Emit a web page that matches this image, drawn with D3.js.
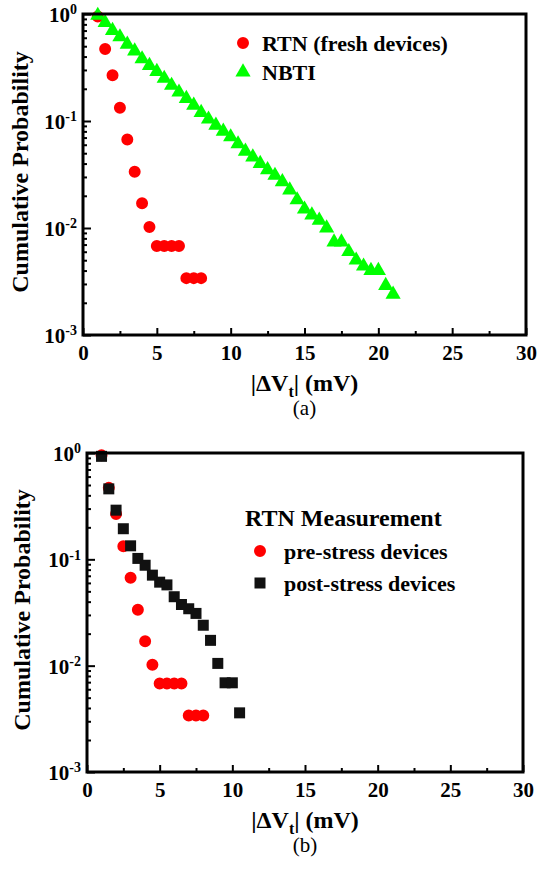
<!DOCTYPE html>
<html>
<head>
<meta charset="utf-8">
<script src="https://cdn.jsdelivr.net/npm/d3@7"></script>
<style>
  body { margin: 0; background: #fff; }
  text { font-family: "Liberation Serif", "Times New Roman", serif; }
</style>
</head>
<body>
<svg id="chart" width="537" height="871"></svg>
<script>
// axis ticks
const xTicks = [0, 5, 10, 15, 20, 25, 30];
const xMinor = [2.5, 7.5, 12.5, 17.5, 22.5, 27.5];
const yDecades = [1, 0.1, 0.01, 0.001];
const yExps = ["0", "-1", "-2", "-3"];

// RTN on fresh / pre-stress devices (same set in both panels)
const rtnX = [1, 1.5, 2, 2.5, 3, 3.5, 4, 4.5, 5, 5.5, 6, 6.5, 7, 7.5, 8];
const rtnP = [0.95, 0.47, 0.267, 0.133, 0.067, 0.0335, 0.017, 0.0102, 0.0068, 0.0068, 0.0068, 0.0068, 0.0034, 0.0034, 0.0034];

// NBTI
const nbtiX = [1, 1.5, 2, 2.5, 3, 3.5, 4, 4.5, 5, 5.5, 6, 6.5, 7, 7.5, 8, 8.5, 9, 9.5, 10, 10.5,
  11, 11.5, 12, 12.5, 13, 13.5, 14, 14.5, 15, 15.5, 16, 16.5, 17, 17.5, 18, 18.5, 19, 19.5, 20, 20.5, 21];
const nbtiP = [0.97, 0.83, 0.70, 0.61, 0.52, 0.45, 0.38, 0.33, 0.29, 0.25,
  0.215, 0.186, 0.162, 0.14, 0.12, 0.104, 0.091, 0.08, 0.071, 0.061,
  0.052, 0.046, 0.040, 0.035, 0.031, 0.027, 0.0226, 0.0183, 0.015, 0.0132,
  0.0118, 0.010, 0.0074, 0.0074, 0.006, 0.005, 0.0044, 0.004, 0.004, 0.0029, 0.0024];

// RTN on post-stress devices
const postX = [1, 1.5, 2, 2.5, 3, 3.5, 4, 4.5, 5, 5.5, 6, 6.5, 7, 7.5, 8, 8.5, 9, 9.5, 10, 10.5];
const postP = [0.93, 0.46, 0.29, 0.194, 0.134, 0.102, 0.088, 0.071, 0.061, 0.0575,
  0.0445, 0.0376, 0.0343, 0.031, 0.024, 0.0173, 0.0105, 0.0069, 0.0069, 0.0036];

const svg = d3.select("#chart");
const serif = '"Liberation Serif", "Times New Roman", serif';

const circleSym = d3.symbol(d3.symbolCircle, 113);
const triSym = d3.symbol(d3.symbolTriangle, 100);
const squareSym = d3.symbol(d3.symbolSquare, 121);

function drawPanel(p) {
  const x = d3.scaleLinear().domain([0, 30]).range([p.left, p.right]);
  const y = d3.scaleLog().domain([0.001, 1]).range([p.bottom, p.top]);
  const g = svg.append("g");

  // series, in drawing order
  p.series.forEach(s => {
    g.append("g").selectAll("path")
      .data(s.xs.map((d, i) => [d, s.ps[i]]))
      .enter().append("path")
      .attr("transform", d => `translate(${x(d[0])},${y(d[1])})`)
      .attr("d", s.sym)
      .attr("fill", s.color);
  });

  // x axis, ticks inward
  const gx = g.append("g").attr("transform", `translate(0,${p.bottom})`)
    .call(d3.axisBottom(x).tickValues(xTicks).tickSizeInner(-7).tickSizeOuter(0)
      .tickPadding(10).tickFormat(d3.format("d")));
  g.append("g").attr("transform", `translate(0,${p.bottom})`)
    .call(d3.axisBottom(x).tickValues(xMinor).tickSizeInner(-4).tickSizeOuter(0).tickFormat(""));

  // y axis, decades + minor
  const gy = g.append("g").attr("transform", `translate(${p.left},0)`)
    .call(d3.axisLeft(y).tickValues(yDecades).tickSizeInner(-8).tickSizeOuter(0).tickPadding(6));
  g.append("g").attr("transform", `translate(${p.left},0)`)
    .call(d3.axisLeft(y).tickValues(y.ticks().filter(v => yDecades.indexOf(v) < 0))
      .tickSizeInner(-4).tickSizeOuter(0).tickFormat(""));

  g.selectAll(".domain").remove();
  g.selectAll(".tick line").attr("stroke", "#000").attr("stroke-width", 2);

  gx.selectAll(".tick text")
    .style("font-family", serif).attr("font-weight", "bold")
    .attr("font-size", 21).attr("fill", "#000").attr("dy", "0.71em");

  gy.selectAll(".tick text").each(function (d, i) {
    const t = d3.select(this)
      .style("font-family", serif).attr("font-weight", "bold")
      .attr("font-size", 21).attr("fill", "#000").attr("dy", "0.36em")
      .text("10");
    t.append("tspan").attr("font-size", 14).attr("dy", "-0.55em").text(yExps[i]);
  });

  // frame
  g.append("rect")
    .attr("x", p.left).attr("y", p.top)
    .attr("width", p.right - p.left).attr("height", p.bottom - p.top)
    .attr("fill", "none").attr("stroke", "#000").attr("stroke-width", 3);

  // y label
  g.append("text")
    .attr("transform", `translate(${p.ylabX},${p.ylabY}) rotate(-90)`)
    .attr("text-anchor", "middle")
    .attr("font-weight", "bold").attr("font-size", 24)
    .text("Cumulative Probability");

  // x label
  const xl = g.append("text")
    .attr("x", (p.left + p.right) / 2).attr("y", p.bottom + p.xlabDy)
    .attr("text-anchor", "middle")
    .attr("font-weight", "bold").attr("font-size", 24);
  xl.append("tspan").text("|ΔV");
  xl.append("tspan").attr("font-size", 16).attr("dy", 6).text("t");
  xl.append("tspan").attr("dy", -6).text("| (mV)");

  // panel caption
  g.append("text")
    .attr("x", (p.left + p.right) / 2).attr("y", p.bottom + p.capDy)
    .attr("text-anchor", "middle")
    .attr("font-size", 21)
    .text(p.caption);

  // legend
  const lg = g.append("g");
  p.legend.forEach(l => {
    if (l.sym) {
      lg.append("path").attr("transform", `translate(${l.mx},${l.y})`)
        .attr("d", l.sym).attr("fill", l.color);
    }
    lg.append("text").attr("x", l.tx).attr("y", l.y).attr("dy", "0.35em")
      .attr("font-weight", "bold").attr("font-size", l.size)
      .text(l.label);
  });
}

drawPanel({
  left: 83, right: 526, top: 14, bottom: 335,
  ylabX: 28, ylabY: 172, xlabDy: 56, capDy: 80, caption: "(a)",
  series: [
    { xs: rtnX, ps: rtnP, sym: circleSym, color: "#ff0000" },
    { xs: nbtiX, ps: nbtiP, sym: triSym, color: "#00ff00" }
  ],
  legend: [
    { label: "RTN (fresh devices)", sym: circleSym, color: "#ff0000", mx: 243, tx: 262, y: 43, size: 22 },
    { label: "NBTI", sym: triSym, color: "#00ff00", mx: 243, tx: 262, y: 72, size: 22 }
  ]
});

drawPanel({
  left: 87, right: 523, top: 453, bottom: 772,
  ylabX: 30, ylabY: 610, xlabDy: 56, capDy: 80, caption: "(b)",
  series: [
    { xs: rtnX, ps: rtnP, sym: circleSym, color: "#ff0000" },
    { xs: postX, ps: postP, sym: squareSym, color: "#111111" }
  ],
  legend: [
    { label: "RTN Measurement", sym: null, mx: 0, tx: 245, y: 518, size: 24 },
    { label: "pre-stress devices", sym: circleSym, color: "#ff0000", mx: 260, tx: 284, y: 551, size: 22 },
    { label: "post-stress devices", sym: squareSym, color: "#111111", mx: 260, tx: 284, y: 583, size: 22 }
  ]
});
</script>
</body>
</html>
